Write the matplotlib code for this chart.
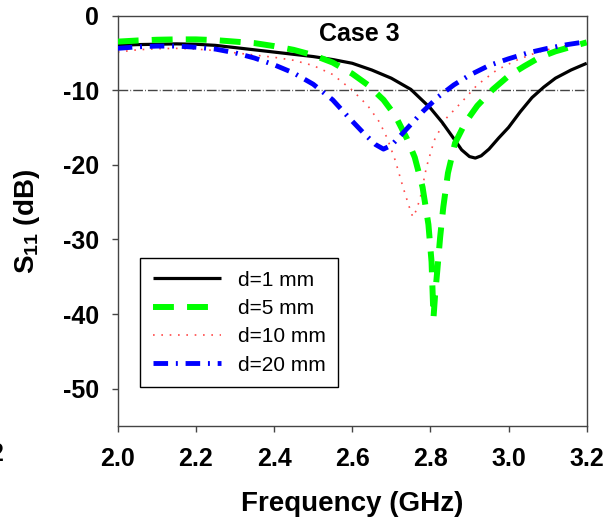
import matplotlib
matplotlib.use("Agg")
import matplotlib.pyplot as plt

# ---- data ----
f_d1 = [2.00, 2.05, 2.10, 2.15, 2.20, 2.25, 2.30, 2.35, 2.40, 2.45, 2.50, 2.55, 2.60, 2.65, 2.70,
        2.75, 2.80, 2.83, 2.86, 2.88, 2.90, 2.915, 2.93, 2.95, 2.975, 3.00, 3.03, 3.06, 3.09, 3.12,
        3.16, 3.20]
s_d1 = [-4.0, -3.9, -3.85, -3.8, -3.85, -4.0, -4.3, -4.6, -4.9, -5.2, -5.5, -5.9, -6.4, -7.3, -8.4,
        -9.9, -12.4, -14.3, -16.5, -18.0, -18.9, -19.1, -18.8, -17.9, -16.4, -15.0, -12.9, -11.0, -9.6, -8.4,
        -7.3, -6.4]

f_d5 = [2.00, 2.05, 2.10, 2.15, 2.20, 2.25, 2.30, 2.35, 2.40, 2.45, 2.50, 2.55, 2.60, 2.64, 2.68,
        2.71, 2.74, 2.76, 2.78, 2.795, 2.803, 2.808, 2.812, 2.818, 2.825, 2.833, 2.845, 2.863, 2.89,
        2.92, 2.96, 3.00, 3.04, 3.08, 3.12, 3.16, 3.20]
s_d5 = [-3.5, -3.35, -3.25, -3.2, -3.2, -3.3, -3.5, -3.7, -4.1, -4.6, -5.3, -6.3, -7.8, -9.3, -11.3,
        -13.4, -16.5, -19.0, -23.0, -28.0, -33.0, -40.5, -37.5, -34.0, -29.7, -25.7, -21.1, -17.1, -14.3,
        -12.1, -9.9, -8.1, -6.8, -5.6, -4.8, -4.2, -3.6]

f_d10 = [2.00, 2.05, 2.10, 2.15, 2.20, 2.25, 2.30, 2.35, 2.40, 2.45, 2.50, 2.55, 2.60, 2.64, 2.67,
         2.69, 2.71, 2.73, 2.745, 2.755, 2.765, 2.775, 2.79, 2.81, 2.84, 2.88, 2.92, 2.97, 3.02, 3.07,
         3.12, 3.16, 3.20]
s_d10 = [-4.9, -4.6, -4.45, -4.4, -4.5, -4.7, -5.0, -5.3, -5.6, -6.0, -6.7, -7.9, -10.0, -12.1, -14.3,
         -16.5, -19.4, -23.0, -25.5, -27.0, -26.0, -24.2, -20.3, -16.7, -13.8, -11.6, -9.3, -7.3, -6.0, -5.0,
         -4.3, -3.9, -3.6]

f_d20 = [2.00, 2.05, 2.10, 2.15, 2.20, 2.25, 2.30, 2.35, 2.40, 2.45, 2.50, 2.55, 2.59, 2.63, 2.66,
         2.68, 2.70, 2.72, 2.75, 2.78, 2.82, 2.86, 2.90, 2.95, 3.00, 3.05, 3.10, 3.15, 3.20]
s_d20 = [-4.4, -4.2, -4.1, -4.1, -4.25, -4.5, -5.0, -5.7, -6.6, -7.7, -9.2, -11.3, -13.6, -15.8, -17.3,
         -17.9, -17.4, -16.3, -14.6, -12.9, -10.9, -9.3, -8.0, -6.7, -5.8, -5.0, -4.4, -3.9, -3.5]

labels = ["d=1 mm", "d=5 mm", "d=10 mm", "d=20 mm"]
x_ticks = [2.0, 2.2, 2.4, 2.6, 2.8, 3.0, 3.2]
y_ticks = [0, -10, -20, -30, -40, -50]
ref_level = -10

plt.rcParams['font.family'] = ['Liberation Sans', 'DejaVu Sans']
plt.rcParams['mathtext.fontset'] = 'custom'
plt.rcParams['mathtext.rm'] = 'Liberation Sans:bold'
plt.rcParams['mathtext.bf'] = 'Liberation Sans:bold'
plt.rcParams['mathtext.it'] = 'Liberation Sans:bold'

fig = plt.figure(figsize=(6.10, 5.22), dpi=100)
ax = fig.add_axes([0.193, 0.1839, 0.7688, 0.7864])

ax.axhline(ref_level, color='#444444', lw=1.0, dashes=[7, 1.5, 0.6, 1.5], zorder=1)

ax.plot(f_d1, s_d1, color='black', lw=2.3, solid_capstyle='butt', label=labels[0], zorder=3)
ax.plot(f_d5, s_d5, color='#00ff00', lw=4.3, dashes=[3.5, 2.2], label=labels[1], zorder=4)
ax.plot(f_d10, s_d10, color='#ff4a4a', lw=1.2, dashes=[1, 4.0], label=labels[2], zorder=2)
ax.plot(f_d20, s_d20, color='#0000ff', lw=3.5, dashes=[3.0, 1.6, 0.4, 1.6], label=labels[3], zorder=5)

ax.set_xlim(2.0, 3.2)
ax.set_ylim(-55, 0)
ax.set_xticks(x_ticks)
ax.set_xticklabels([f"{v:.1f}" for v in x_ticks])
ax.set_yticks(y_ticks)
ax.set_yticklabels([str(v) for v in y_ticks])

for sp in ax.spines.values():
    sp.set_color('#444444')
    sp.set_linewidth(1.0)

ax.tick_params(axis='x', direction='out', length=4.3, width=1, color='#444444', pad=11)
ax.tick_params(axis='y', direction='out', length=4.3, width=1, color='#444444', pad=9)
for lab in ax.get_xticklabels() + ax.get_yticklabels():
    lab.set_fontsize(18)
    lab.set_fontweight('bold')

ax.set_xlabel("Frequency (GHz)", fontsize=20, fontweight='bold')
ax.set_ylabel(r"S$_{11}$ (dB)", fontsize=20, fontweight='bold')
ax.xaxis.set_label_coords(0.5, -0.158)
ax.yaxis.set_label_coords(-0.162, 0.497)

ax.text(2.617, -2.5, "Case 3", fontsize=18, fontweight='bold', ha='center', va='center')

# clipped fragment of a character at the left edge in the reference
fig.text(-0.018, 0.130, "2", fontsize=18, fontweight='bold', ha='left', va='center')

leg = ax.legend(loc='upper left', bbox_to_anchor=(0.0475, 0.409), borderaxespad=0,
                fontsize=15, handlelength=3.3, frameon=True, fancybox=False,
                edgecolor='black', framealpha=1, borderpad=0.6, labelspacing=0.45,
                handletextpad=0.8)
leg.get_frame().set_linewidth(1.0)

fig.savefig("out.png", dpi=100)
